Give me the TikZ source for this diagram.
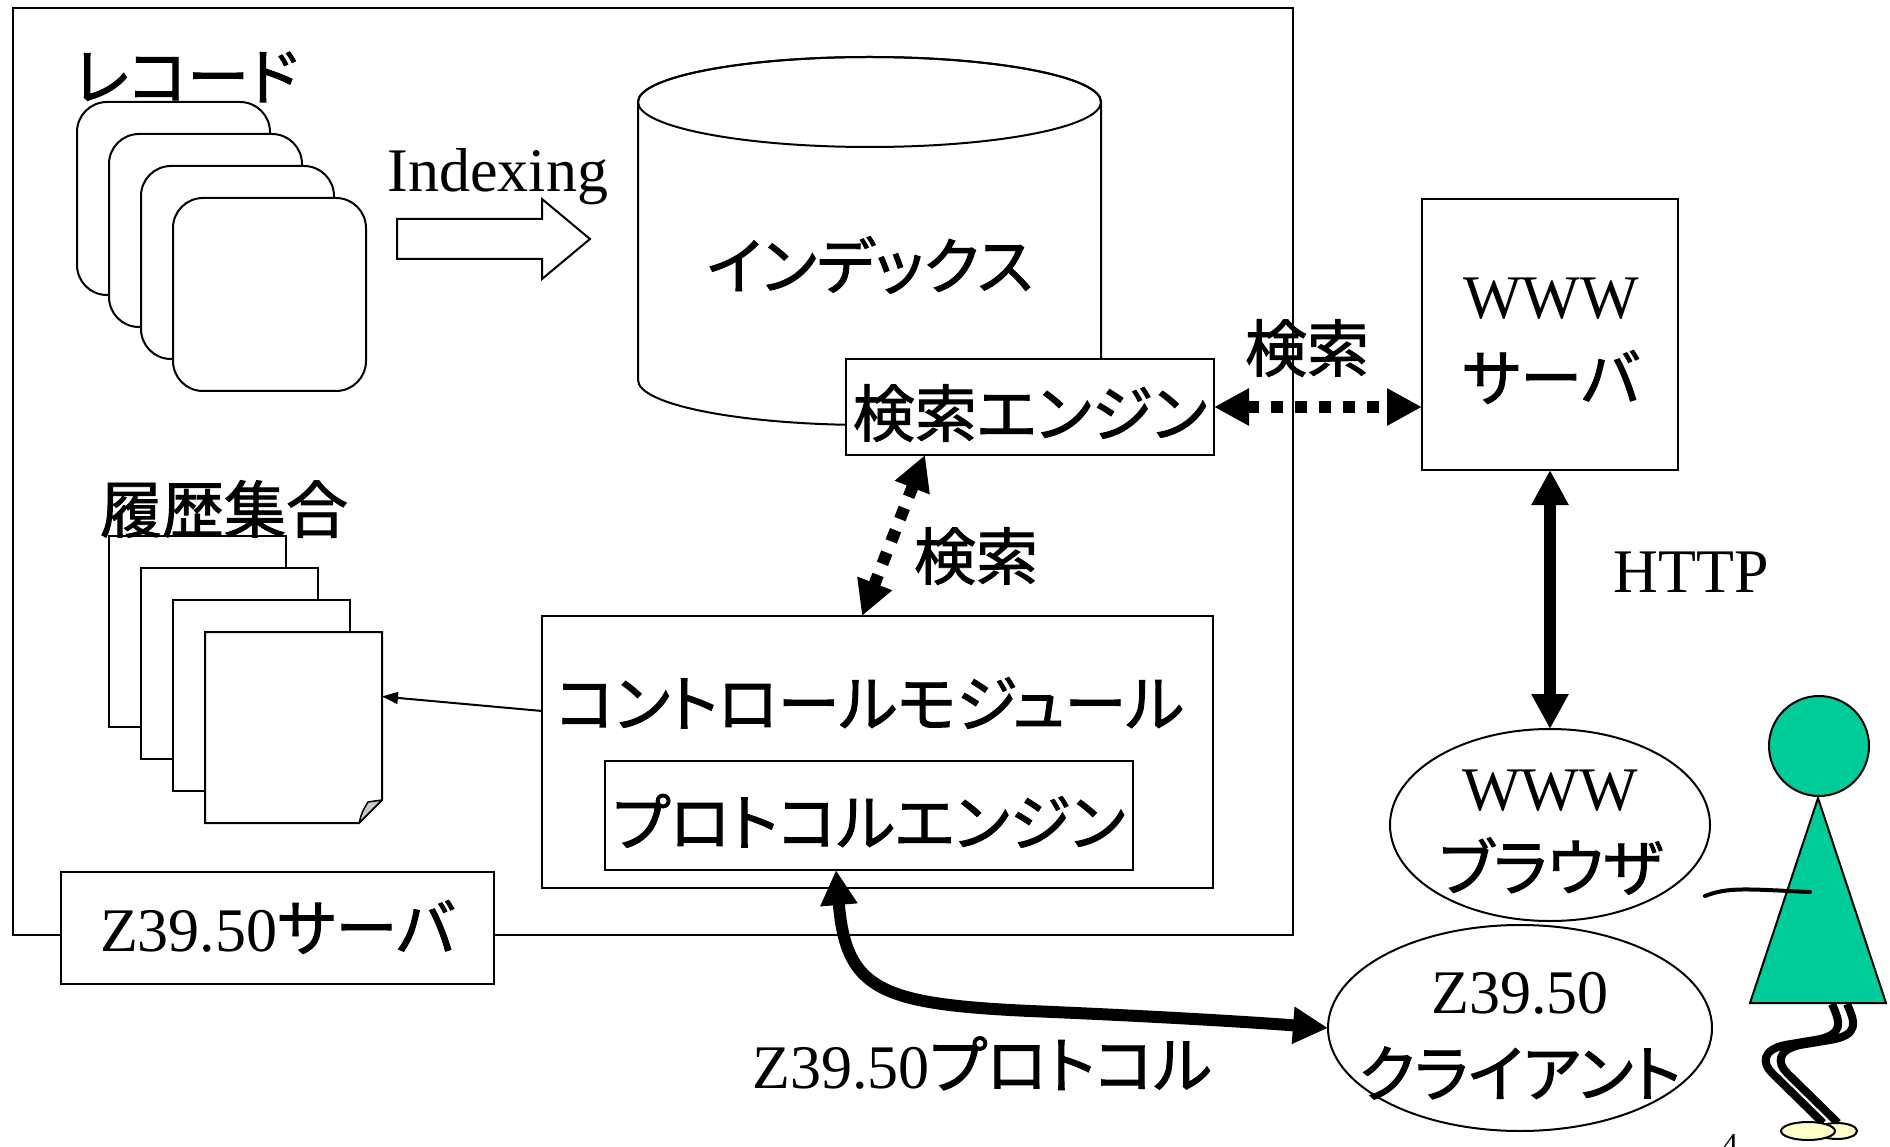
\documentclass[tikz,border=0pt]{standalone}
\usepackage{fontspec}
\setmainfont{Liberation Serif}
\newfontfamily\jp[RawFeature=+palt, RawFeature={embolden=1.5}]{Noto Sans CJK JP}
\usetikzlibrary{arrows.meta,shapes.geometric,calc}

\definecolor{figgreen}{HTML}{00CC99}
\definecolor{footcol}{HTML}{FFFFCC}
\definecolor{foldgray}{HTML}{C8C8C8}

\tikzset{
  every node/.style={inner sep=0pt, outer sep=0pt},
  big/.style={font=\fontsize{62}{80}\selectfont},
  jptext/.style={font=\fontsize{62}{80}\selectfont\jp},
  frame/.style={draw, line width=2pt, fill=white, rectangle},
  card/.style={draw, line width=2pt, fill=white, rounded corners=30pt,
    minimum width=193pt, minimum height=193pt},
  sheet/.style={draw, line width=2pt, fill=white,
    minimum width=177pt, minimum height=191pt},
  oval/.style={ellipse, draw, line width=2pt, fill=white},
  bighead/.tip={Triangle[length=35pt,width=35pt]},
  smallhead/.tip={Triangle[length=16pt,width=12pt]},
  dotarrow/.style={line width=12pt, dash pattern=on 12pt off 12pt, bighead-bighead},
  boldarrow/.style={line width=12pt, bighead-bighead},
  thinarrow/.style={line width=2pt, -smallhead},
  leg/.style={line width=8pt, line join=round},
}

\begin{document}
\begin{tikzpicture}[x=1pt,y=-1pt]
\useasboundingbox (0,0) rectangle (1890,1147);

% Z39.50 server frame
\node[frame, fill=none, minimum width=1280pt, minimum height=927pt] (srv) at (653,471.5) {};

% stack of records
\node[card] (rec1) at (173.5,198.5) {};
\node[card] (rec2) at (205.5,230.5) {};
\node[card] (rec3) at (237.5,262.5) {};
\node[card] (rec4) at (269.5,294.5) {};
\node[jptext] (rectitle) at (186,77) {レコード};

% indexing block arrow
\draw[line width=2pt, fill=white, line join=miter]
  (397,219) -- (542,219) -- (542,199) -- (590,239) -- (542,279) -- (542,259) -- (397,259) -- cycle;
\node[big, anchor=base] (idxlabel) at (498,192) {Indexing};

% index database (cylinder)
\draw[line width=2pt, fill=white]
  (638,102) -- (638,380) arc[start angle=180, end angle=0, x radius=231.5, y radius=45]
  -- (1101,102) arc[start angle=0, end angle=-180, x radius=231.5, y radius=45] -- cycle;
\draw[line width=2pt] (869.5,102) ellipse[x radius=231.5, y radius=45];
\node[jptext] (idxname) at (870,265) {インデックス};

% search engine
\node[frame, jptext, minimum width=368pt, minimum height=96pt,
  text height=59pt, text depth=0pt] (se) at (1030,407) {検索エンジン};

% WWW server
\node[frame, minimum width=256pt, minimum height=271pt] (www) at (1550,334.5) {};
\node[big, anchor=base] (wwwa) at (1551,319) {WWW};
\node[jptext] (wwwb) at (1551,377) {サーバ};

\node[jptext] (q1) at (1307,348) {検索};
\draw[dotarrow] (se.east) -- (se.east -| www.west);

% control module with protocol engine
\node[frame, minimum width=671pt, minimum height=272pt] (cm) at (877.5,752) {};
\node[jptext] (cmlabel) at (870,703) {コントロールモジュール};
\node[frame, jptext, minimum width=528pt, minimum height=109pt,
  text height=60pt, text depth=0pt] (pe) at (869,815.5) {プロトコルエンジン};

\draw[dotarrow] ([xshift=-105pt]se.south) -- ([xshift=-15.5pt]cm.north);
\node[jptext] (q2) at (976,556) {検索};

% history sets
\node[sheet] (h1) at (197.5,631.5) {};
\node[sheet] (h2) at (229.5,663.5) {};
\node[sheet] (h3) at (261.5,695.5) {};
\node[sheet, draw=none, fill=none] (h4) at (293.5,727.5) {};
\draw[line width=2pt, fill=white, line join=miter]
  (h4.north west) -- (h4.north east) -- ([yshift=23pt]h4.south east)
  -- ([xshift=-23pt]h4.south east) -- (h4.south west) -- cycle;
\draw[line width=1.5pt, fill=foldgray, line join=round]
  ([xshift=-23pt]h4.south east) .. controls ($(h4.south east)+(-20,-11)$) ..
  ($(h4.south east)+(-14,-21)$) -- ([yshift=23pt]h4.south east) -- cycle;
\node[jptext] (histtitle) at (224,509) {履歴集合};

\draw[thinarrow] ([yshift=41pt]cm.west) -- ([yshift=31pt]h4.east);

% server name tab
\node[frame, big, minimum width=433pt, minimum height=112pt,
  text height=46pt, text depth=0pt] (srvlabel) at (277.5,928) {Z39.50{\jp サーバ}};

% clients
\node[oval, minimum width=320pt, minimum height=192pt] (br) at (1550,825) {};
\node[big, anchor=base] (bra) at (1550,810) {WWW};
\node[jptext] (brb) at (1551,866) {ブラウザ};

\node[oval, minimum width=384pt, minimum height=206pt] (cl) at (1520,1028) {};
\node[big, anchor=base] (cla) at (1520,1013) {Z39.50};
\node[jptext] (clb) at (1520,1073) {クライアント};

\draw[boldarrow] (www.south) -- (br.north);
\node[big, anchor=base] (http) at (1691,592) {HTTP};

\draw[boldarrow] ([xshift=-33pt]pe.south) .. controls (846,990) and (880,1004) ..
  (1030,1011) .. controls (1150,1016) and (1250,1022) .. (cl.west);
\node[big, anchor=base] (proto) at (982,1088) {Z39.50{\jp プロトコル}};

% user figure
\draw[line width=2pt, fill=figgreen, line join=miter]
  (1818,798) -- (1886,1003) -- (1750,1003) -- cycle;
\node[circle, draw, line width=2pt, fill=figgreen, minimum size=100pt] (head) at (1819,746) {};
\draw[leg] (1832,1004) .. controls (1840,1022) and (1845,1035) .. (1815,1040)
  -- (1785,1045) .. controls (1762,1050) and (1762,1063) .. (1772,1073) -- (1823,1123);
\draw[leg] (1847,1004) .. controls (1855,1022) and (1860,1035) .. (1830,1040)
  -- (1800,1045) .. controls (1777,1050) and (1777,1063) .. (1787,1073) -- (1838,1123);
\draw[line width=2pt, fill=footcol] (1837,1131) ellipse[x radius=20, y radius=8];
\draw[line width=2pt, fill=footcol] (1808,1131) ellipse[x radius=27, y radius=9];
\draw[line width=4pt, line cap=round] (1705,896) .. controls (1728,887) and (1745,889) .. (1810,892);

% page number
\node[font=\fontsize{32}{36}\selectfont, anchor=base] (pageno) at (1730,1155) {4};
\end{tikzpicture}
\end{document}
